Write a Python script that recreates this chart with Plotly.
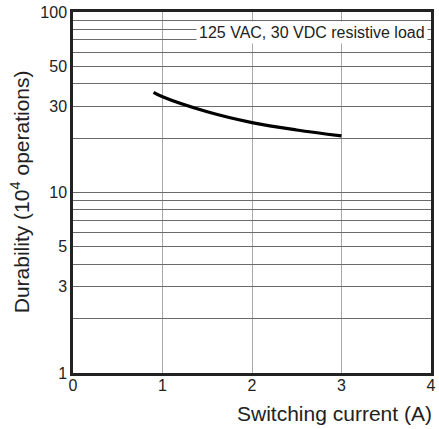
import plotly.graph_objects as go
import math

# Data
current_a = [0.9, 1.0, 1.5, 2.0, 2.5, 3.0]
durability_1e4 = [35.9, 33.9, 28.0, 24.4, 22.2, 20.6]

x_ticks = [0, 1, 2, 3, 4]
y_grid = [2, 3, 4, 5, 6, 7, 8, 9, 10, 20, 30, 40, 50, 60, 70, 80, 90, 100]
y_labeled = [1, 3, 5, 10, 30, 50, 100]
note = "125 VAC, 30 VDC resistive load"

FONT = "Liberation Sans, Arial, sans-serif"

fig = go.Figure()
fig.add_trace(go.Scatter(x=current_a, y=durability_1e4, mode="lines",
                         line=dict(color="black", width=3.2, shape="spline", smoothing=1.0),
                         hoverinfo="skip", showlegend=False))

y_tickvals = [1] + y_grid
y_ticktext = [str(v) if v in y_labeled else "" for v in y_tickvals]

fig.update_layout(
    width=439, height=429,
    margin=dict(l=73, r=3, t=12, b=56),
    paper_bgcolor="white", plot_bgcolor="white",
    font=dict(family=FONT, color="#222"),
    xaxis=dict(range=[0, 4], tickvals=x_ticks, ticktext=[str(v) for v in x_ticks],
               showgrid=True, gridcolor="#a8a8a8", gridwidth=1.3,
               showline=True, linecolor="#222", linewidth=2.5, mirror=True,
               ticks="", tickfont=dict(size=16, color="#222"), zeroline=False,
               ticklabelstandoff=-4),
    yaxis=dict(type="log", range=[0, 2], tickvals=y_tickvals, ticktext=y_ticktext,
               showgrid=True, gridcolor="#6a6a6a", gridwidth=1.1,
               showline=True, linecolor="#222", linewidth=2.5, mirror=True,
               ticks="", tickfont=dict(size=16, color="#222"), zeroline=False),
    annotations=[
        dict(x=3.967, y=math.log10(76.6), xref="x", yref="y", text=note,
             showarrow=False, xanchor="right", yanchor="middle",
             bgcolor="white", borderpad=2, font=dict(size=16, color="#222")),
        dict(x=(19 - 73) / 363, y=(373 - 191.5) / 361, xref="paper", yref="paper",
             text="Durability (10<sup>4</sup> operations)", textangle=-90,
             showarrow=False, xanchor="center", yanchor="middle",
             font=dict(size=21, color="#222")),
        dict(x=(439 - 73) / 363, y=(373 - 413) / 361, xref="paper", yref="paper",
             text="Switching current (A)", showarrow=False,
             xanchor="right", yanchor="middle", font=dict(size=21, color="#222")),
    ],
)

fig.write_html("out.html", config={"displayModeBar": False},
               post_script="document.body.style.margin='0';")
